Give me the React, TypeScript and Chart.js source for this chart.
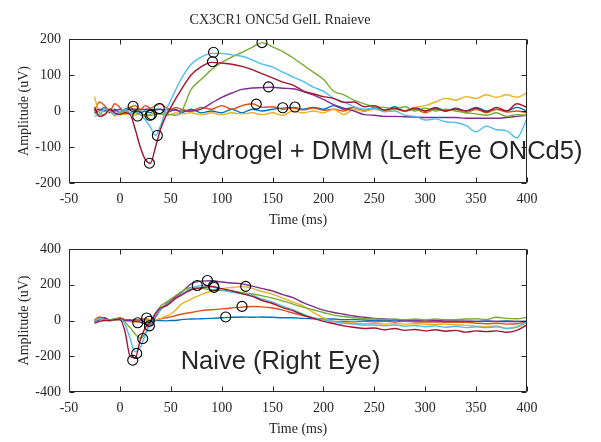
import React, { useEffect, useRef } from 'react';
import { Chart, registerables } from 'chart.js';

Chart.register(...registerables);

// ---------------- data ----------------
const TIME = [-25, -20, -15, -10, -5, 0, 5, 10, 15, 20, 25, 30, 35, 40, 45, 50, 55, 60,
  70, 80, 90, 100, 110, 120, 130, 140, 150, 160, 170, 180, 190, 200, 210, 220, 230, 240, 250,
  260, 270, 280, 290, 300, 310, 320, 330, 340, 350, 360, 370, 380, 390, 400];

// Top panel: Hydrogel + DMM (Left Eye ONCd5)
const TOP_BLUE = [-5, 0, 10, -5, 5, -5, 5, 10, 0, -5, 0, -5, 5, 5, -5, 0, 5, -5,
  5, -5, 0, -5, 5, -5, 5, 0, 5, 8, 10, 5, 10, 5, 15, 5, 10, 0, 10, 2, 12, 0, 10, 0, 10, 0, 8, 0, 10, 0, 5, 0, 10, 0];
const TOP_ORANGE = [0, 25, 15, 0, 20, 10, -5, 10, 15, 5, 15, 8, 15, 20, 10, 5, 10, 5,
  0, 10, 5, 15, 5, 15, 20, 10, 12, 5, 8, 3, 8, 2, 5, 0, 10, 0, 8, 0, 5, 0, 5, -5, 5, 0, 5, -5, 5, -5, 5, -3, 0, -5];
const TOP_YELLOW = [40, -5, -10, 0, -15, -5, -10, -5, -12, -8, -15, -10, -5, -10, -5, -10, -5, -8,
  -5, -10, -5, -10, -5, -8, -5, -10, -5, -12, 0, -5, 0, -5, 5, -10, 5, 0, 5, 0, 8, 0, 10, 15, 25, 35, 30, 40, 35, 45, 38, 45, 38, 50];
const TOP_PURPLE = [0, 5, 0, 5, 0, 5, 3, 5, 5, 3, 5, 5, 3, 5, 3, 3, 2, 0,
  0, 5, 22, 38, 50, 60, 64, 65, 66, 63, 62, 54, 45, 32, 18, 8, 0, -10, -12, -15, -15, -16, -17, -18, -18, -18, -18, -20, -20, -20, -20, -18, -15, -12];
const TOP_GREEN = [-5, -10, 5, 0, -10, -5, 0, -5, -5, -10, -10, -12, -10, -8, -12, -10, -12, -5,
  60, 88, 115, 135, 150, 163, 177, 190, 178, 165, 148, 128, 108, 88, 55, 45, 30, 20, 12, 10, 5, 12, 0, 8, 0, 5, 0, -5, -8, -12, -5, -15, -10, -12];
const TOP_LIGHTBLUE = [-15, -10, 5, 0, -10, 0, 5, -5, 0, -10, -25, -45, -68, -40, 0, 30, 60, 88,
  130, 150, 160, 160, 156, 152, 142, 130, 122, 108, 95, 82, 66, 55, 35, 25, 12, 5, 8, -2, 0, -12, -15, -25, -22, -30, -32, -40, -58, -42, -52, -55, -75, -20];
const TOP_RED = [10, -15, -10, 5, -5, -10, -5, -10, -50, -100, -135, -145, -100, -50, -15, 10, 35, 58,
  100, 123, 135, 133, 130, 124, 115, 103, 92, 80, 72, 56, 48, 40, 35, 24, 25, 12, 15, 2, 8, 0, 8, 0, 8, 0, 6, 0, 8, -2, 10, 0, 20, 10];
const TOP_MARK_T = [13, 17.5, 29.6, 31, 38.7, 36.8, 29, 92, 91, 139.6, 146, 134, 160, 172];
const TOP_MARK_V = [13, -14, -12, -10, 7, -68, -145, 163, 137, 190, 67, 19, 9, 11];

// Bottom panel: Naive (Right Eye)
const BOT_BLUE = [-5, 5, 10, 0, 5, 5, 0, 0, 5, 0, 5, 0, 0, 0, -2, 0, 0, 5,
  8, 10, 12, 15, 18, 20, 18, 20, 18, 15, 15, 12, 10, 8, 8, 5, 5, 3, 0, 0, -2, 0, -3, -2, -3, -5, -5, -5, -5, -3, -5, -3, -5, -5];
const BOT_ORANGE = [5, 20, 10, 5, 10, 15, 5, 5, 0, 5, 10, 5, 5, 10, 15, 20, 28, 35,
  45, 55, 60, 65, 70, 75, 78, 76, 70, 58, 42, 28, 15, 5, -5, -5, -8, -5, -8, -5, -8, -5, -8, -8, -8, -10, -10, -10, -15, -18, -15, -20, -18, -8];
const BOT_YELLOW = [0, 10, 5, 5, 0, 5, 0, -5, -12, -8, 0, 5, 5, 10, 25, 35, 60, 90,
  120, 145, 165, 178, 185, 190, 180, 162, 148, 125, 103, 82, 45, 15, -8, -12, -15, -18, -17, -20, -18, -20, -18, -20, -22, -20, -25, -26, -32, -35, -30, -45, -38, -12];
const BOT_PURPLE = [-5, 5, 15, 0, 5, 10, 0, 0, -5, -10, -20, -25, 20, 60, 90, 110, 135, 155,
  205, 220, 222, 215, 210, 205, 192, 178, 165, 145, 128, 100, 78, 58, 45, 35, 25, 18, 12, 8, 5, 3, 2, 0, 0, -2, -3, -4, -5, -5, -5, -6, -6, -5];
const BOT_GREEN = [0, 10, 5, 0, 10, 5, -10, -40, -75, -100, -70, -10, 40, 80, 100, 120, 140, 160,
  185, 180, 172, 168, 165, 155, 148, 138, 125, 110, 92, 75, 60, 45, 30, 22, 15, 10, 8, 5, 8, 5, 8, 3, 8, 5, 5, 8, 10, 5, 18, 12, 10, 18];
const BOT_LIGHTBLUE = [-5, 10, 5, 0, 5, 5, -20, -100, -175, -150, -80, -20, 30, 60, 85, 105, 125, 145,
  180, 195, 190, 170, 158, 150, 140, 120, 103, 80, 60, 35, 15, 5, -5, -15, -20, -25, -25, -30, -25, -32, -28, -35, -30, -38, -32, -40, -35, -40, -35, -45, -35, -5];
const BOT_RED = [-15, -5, 0, 0, 5, 5, -60, -200, -210, -110, -40, -10, 40, 70, 80, 100, 125, 140,
  172, 183, 190, 178, 166, 150, 135, 112, 95, 72, 55, 30, 12, -5, -17, -30, -38, -45, -42, -52, -45, -55, -50, -58, -52, -60, -55, -65, -58, -62, -58, -66, -55, -25];
const BOT_MARK_T = [12.6, 16.5, 22.4, 17.5, 26.3, 28.9, 29, 76, 86, 92, 92.5, 123.6, 120, 104];
const BOT_MARK_V = [-222, -184, -101, -13, 14, -4, -30, 196, 224, 193, 185, 191, 79, 20];

const X_TICK_LABELS = ['-50', '0', '50', '100', '150', '200', '250', '300', '350', '400'];

const COLORS = {
  blue: '#0072BD', orange: '#D95319', yellow: '#EDB120', purple: '#7E2F8E',
  green: '#77AC30', lightblue: '#4DBEEE', red: '#A2142F',
};

const AXIS_COLOR = '#262626';
const SERIF = "'Liberation Serif', 'Times New Roman', serif";
const SANS = "'Liberation Sans', Arial, Helvetica, sans-serif";

const framePlugin = {
  id: 'frame',
  afterDraw(chart: any, _args: any, opts: any) {
    const { ctx, chartArea } = chart;
    const xs = chart.scales.x;
    const ys = chart.scales.y;
    const L = Math.round(chartArea.left) + 0.5;
    const R = Math.round(chartArea.right) - 0.5;
    const T = Math.round(chartArea.top) + 0.5;
    const B = Math.round(chartArea.bottom) - 0.5;
    ctx.save();
    ctx.strokeStyle = AXIS_COLOR;
    ctx.lineWidth = 1;
    ctx.beginPath();
    ctx.rect(L, T, R - L, B - T);
    for (const t of xs.ticks) {
      const p = Math.round(xs.getPixelForValue(t.value)) + 0.5;
      ctx.moveTo(p, B); ctx.lineTo(p, B - 5);
      ctx.moveTo(p, T); ctx.lineTo(p, T + 5);
    }
    for (const t of ys.ticks) {
      const p = Math.round(ys.getPixelForValue(t.value)) + 0.5;
      ctx.moveTo(L, p); ctx.lineTo(L + 5, p);
      ctx.moveTo(R, p); ctx.lineTo(R - 5, p);
    }
    ctx.stroke();
    ctx.fillStyle = AXIS_COLOR;
    if (opts.label) {
      ctx.font = `25.5px ${SANS}`;
      ctx.textAlign = 'left';
      ctx.textBaseline = 'alphabetic';
      ctx.fillText(opts.label, xs.getPixelForValue(opts.labelX), ys.getPixelForValue(opts.labelY));
    }
    if (opts.title) {
      ctx.font = `14px ${SERIF}`;
      ctx.textAlign = 'center';
      ctx.textBaseline = 'alphabetic';
      ctx.fillText(opts.title, opts.titleX, opts.titleY);
    }
    ctx.restore();
  },
};

type Series = { name: string; values: number[]; color: string; order: number };

function buildConfig(p: {
  series: Series[]; markT: number[]; markV: number[];
  yMin: number; yMax: number; yStep: number;
  padTop: number; xAxisH: number; xTitlePad: number;
  label: string; labelX: number; labelY: number;
  title?: string;
}): any {
  const datasets: any[] = p.series.map((s) => ({
    label: s.name,
    data: TIME.map((t, i) => ({ x: t, y: s.values[i] })),
    borderColor: s.color,
    backgroundColor: s.color,
    borderWidth: 1.4,
    pointRadius: 0,
    cubicInterpolationMode: 'monotone',
    fill: false,
    order: s.order,
  }));
  datasets.push({
    label: 'markers',
    data: p.markT.map((t, i) => ({ x: t, y: p.markV[i] })),
    showLine: false,
    pointStyle: 'circle',
    pointRadius: 5,
    pointBorderWidth: 1.1,
    pointBorderColor: '#000000',
    pointBackgroundColor: 'rgba(0,0,0,0)',
    borderColor: '#000000',
    order: 0,
  });
  return {
    type: 'line',
    data: { datasets },
    plugins: [framePlugin],
    options: {
      responsive: false,
      animation: false,
      events: [],
      layout: { padding: { left: 0, right: 74, top: p.padTop, bottom: 0 } },
      plugins: {
        legend: { display: false },
        tooltip: { enabled: false },
        title: { display: false },
        frame: {
          label: p.label, labelX: p.labelX, labelY: p.labelY,
          title: p.title, titleX: 280, titleY: 24,
        },
      },
      scales: {
        x: {
          type: 'linear',
          min: -50,
          max: 400,
          grid: { display: false, drawTicks: false },
          border: { display: false },
          ticks: {
            stepSize: 50,
            padding: 8,
            maxRotation: 0,
            color: AXIS_COLOR,
            font: { family: SERIF, size: 14 },
            callback: (_v: any, i: number) => X_TICK_LABELS[i],
          },
          title: {
            display: true, text: 'Time (ms)', color: AXIS_COLOR,
            font: { family: SERIF, size: 14 },
            padding: { top: 0, bottom: p.xTitlePad },
          },
          afterFit: (s: any) => { s.height = p.xAxisH; },
        },
        y: {
          type: 'linear',
          min: p.yMin,
          max: p.yMax,
          grid: { display: false, drawTicks: false },
          border: { display: false },
          ticks: {
            stepSize: p.yStep,
            padding: 8,
            color: AXIS_COLOR,
            font: { family: SERIF, size: 14 },
          },
          title: {
            display: true, text: 'Amplitude (uV)', color: AXIS_COLOR,
            font: { family: SERIF, size: 14 },
            padding: { top: 15.6, bottom: 0 },
          },
          afterFit: (s: any) => { s.width = 69; },
        },
      },
    },
  };
}

export default function App() {
  const topRef = useRef<HTMLCanvasElement>(null);
  const botRef = useRef<HTMLCanvasElement>(null);

  useEffect(() => {
    document.body.style.margin = '0';
    const top = new Chart(topRef.current as HTMLCanvasElement, buildConfig({
      series: [
        { name: 'blue', values: TOP_BLUE, color: COLORS.blue, order: 7 },
        { name: 'orange', values: TOP_ORANGE, color: COLORS.orange, order: 6 },
        { name: 'yellow', values: TOP_YELLOW, color: COLORS.yellow, order: 5 },
        { name: 'purple', values: TOP_PURPLE, color: COLORS.purple, order: 4 },
        { name: 'green', values: TOP_GREEN, color: COLORS.green, order: 3 },
        { name: 'lightblue', values: TOP_LIGHTBLUE, color: COLORS.lightblue, order: 2 },
        { name: 'red', values: TOP_RED, color: COLORS.red, order: 1 },
      ],
      markT: TOP_MARK_T, markV: TOP_MARK_V,
      yMin: -200, yMax: 200, yStep: 100,
      padTop: 39, xAxisH: 49, xTitlePad: 3.6,
      label: 'Hydrogel + DMM (Left Eye ONCd5)', labelX: 59.7, labelY: -134,
      title: 'CX3CR1 ONC5d GelL Rnaieve',
    }));
    const bot = new Chart(botRef.current as HTMLCanvasElement, buildConfig({
      series: [
        { name: 'blue', values: BOT_BLUE, color: COLORS.blue, order: 7 },
        { name: 'orange', values: BOT_ORANGE, color: COLORS.orange, order: 6 },
        { name: 'yellow', values: BOT_YELLOW, color: COLORS.yellow, order: 5 },
        { name: 'purple', values: BOT_PURPLE, color: COLORS.purple, order: 4 },
        { name: 'green', values: BOT_GREEN, color: COLORS.green, order: 3 },
        { name: 'lightblue', values: BOT_LIGHTBLUE, color: COLORS.lightblue, order: 2 },
        { name: 'red', values: BOT_RED, color: COLORS.red, order: 1 },
      ],
      markT: BOT_MARK_T, markV: BOT_MARK_V,
      yMin: -400, yMax: 400, yStep: 200,
      padTop: 17, xAxisH: 50, xTitlePad: 4.6,
      label: 'Naive (Right Eye)', labelX: 59.7, labelY: -272,
    }));
    return () => { top.destroy(); bot.destroy(); };
  }, []);

  return (
    <div style={{ position: 'relative', width: 601, height: 442, background: '#ffffff', overflow: 'hidden' }}>
      <canvas ref={topRef} width={601} height={232}
        style={{ position: 'absolute', left: 0, top: 0, width: 601, height: 232 }} />
      <canvas ref={botRef} width={601} height={210}
        style={{ position: 'absolute', left: 0, top: 232, width: 601, height: 210 }} />
    </div>
  );
}
